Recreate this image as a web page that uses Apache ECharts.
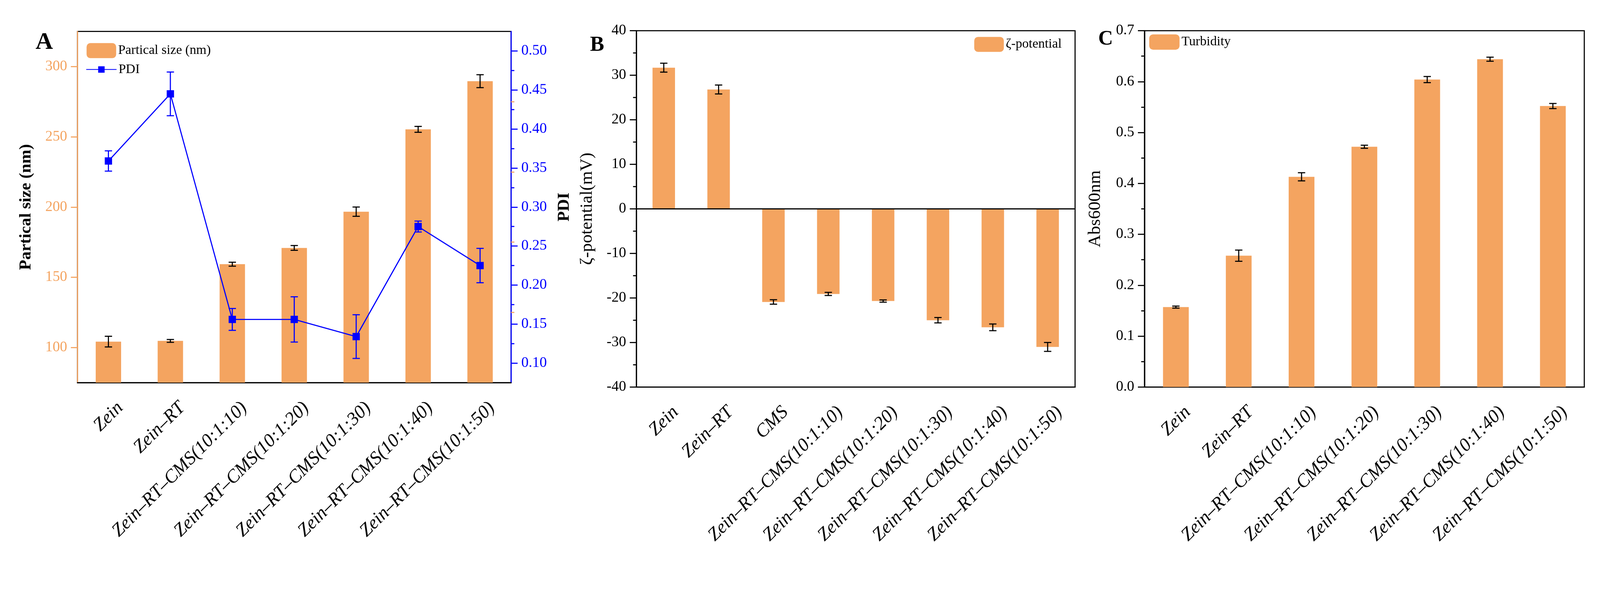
<!DOCTYPE html>
<html>
<head>
<meta charset="utf-8">
<script src="https://cdn.jsdelivr.net/npm/echarts@6/dist/echarts.min.js"></script>
<style>
  html, body { margin: 0; padding: 0; background: #fff; overflow: hidden; }
  #chart { width: 100vw; height: 100vh; }
</style>
</head>
<body>
<div id="chart"></div>
<script>
// categories
const catsA = ["Zein", "Zein\u2013RT", "Zein\u2013RT\u2013CMS(10:1:10)", "Zein\u2013RT\u2013CMS(10:1:20)",
  "Zein\u2013RT\u2013CMS(10:1:30)", "Zein\u2013RT\u2013CMS(10:1:40)", "Zein\u2013RT\u2013CMS(10:1:50)"];
const catsB = ["Zein", "Zein\u2013RT", "CMS", "Zein\u2013RT\u2013CMS(10:1:10)", "Zein\u2013RT\u2013CMS(10:1:20)",
  "Zein\u2013RT\u2013CMS(10:1:30)", "Zein\u2013RT\u2013CMS(10:1:40)", "Zein\u2013RT\u2013CMS(10:1:50)"];
const catsC = catsA;

// panel A: particle size (nm) and PDI
const sizeVals = [104.2, 104.7, 159.3, 170.9, 196.7, 255.3, 289.6];
const sizeErr = [3.8, 1.0, 1.4, 1.7, 3.3, 2.1, 4.6];
const pdiVals = [0.359, 0.445, 0.156, 0.156, 0.134, 0.275, 0.225];
const pdiErr = [0.013, 0.028, 0.014, 0.029, 0.028, 0.007, 0.022];

// panel B: zeta potential (mV)
const zetaVals = [31.7, 26.8, -20.9, -19.1, -20.7, -25.0, -26.6, -31.0];
const zetaErr = [1.0, 1.0, 0.5, 0.35, 0.25, 0.6, 0.75, 1.0];

// panel C: turbidity (Abs600nm)
const turbVals = [0.157, 0.258, 0.413, 0.472, 0.604, 0.644, 0.552];
const turbErr = [0.002, 0.011, 0.008, 0.003, 0.006, 0.004, 0.005];

// tick values for panel A (axes do not start on a round number)
const sizeTicks = [100, 150, 200, 250, 300];
const sizeMinorTicks = [125, 175, 225, 275];
const pdiTicks = [0.10, 0.15, 0.20, 0.25, 0.30, 0.35, 0.40, 0.45, 0.50];
const pdiMinorTicks = [0.125, 0.175, 0.225, 0.275, 0.325, 0.375, 0.425, 0.475];

const FONT = "Liberation Serif";
const BAR = "#F4A460";
const AXIS_ORANGE = "#F4A460";
const BLUE = "#0000FF";

// layout is measured on a 4380 x 1520 canvas; scale to whatever the window really is
const K = Math.min(window.innerWidth / 4380, window.innerHeight / 1520);
const s = (v) => v * K;

function errData(vals, errs) {
  return vals.map((v, i) => [i, v - errs[i], v + errs[i]]);
}

function errorRenderer(color, half) {
  return function (params, api) {
    const x = api.value(0);
    const lo = api.coord([x, api.value(1)]);
    const hi = api.coord([x, api.value(2)]);
    const style = { stroke: color, lineWidth: s(3) };
    const h = s(half);
    return {
      type: "group",
      children: [
        { type: "line", shape: { x1: lo[0], y1: lo[1], x2: hi[0], y2: hi[1] }, style: style },
        { type: "line", shape: { x1: hi[0] - h, y1: hi[1], x2: hi[0] + h, y2: hi[1] }, style: style },
        { type: "line", shape: { x1: lo[0] - h, y1: lo[1], x2: lo[0] + h, y2: lo[1] }, style: style },
      ],
    };
  };
}

function catAxis(idx, cats) {
  return [
    {
      type: "category", gridIndex: idx, data: cats, position: "bottom",
      axisLine: { onZero: false, lineStyle: { color: "#000", width: s(3) } },
      axisTick: { alignWithLabel: true, length: s(18), lineStyle: { color: "#000", width: s(3) } },
      // labels sit a little right of their tick, as in the original figure
      axisLabel: {
        rotate: 45, margin: s(94), padding: [0, -s(46), 0, 0],
        fontFamily: FONT, fontStyle: "italic", fontSize: s(51), color: "#000", interval: 0,
      },
    },
    {
      // boundary ticks between categories
      type: "category", gridIndex: idx, data: cats, position: "bottom",
      axisLine: { show: false, onZero: false },
      axisTick: { alignWithLabel: false, length: s(10), lineStyle: { color: "#000", width: s(3) } },
      axisLabel: { show: false },
    },
  ];
}

const labelStyle = { fontFamily: FONT, fontSize: s(40), color: "#000", margin: s(28) };
const legendText = { fontFamily: FONT, fontSize: s(36), color: "#000" };

const option = {
  animation: false,
  backgroundColor: "#fff",
  title: [
    { text: "A", left: s(92), top: s(78), textStyle: { fontFamily: FONT, fontWeight: "bold", fontSize: s(66), color: "#000" } },
    { text: "B", left: s(1610), top: s(90), textStyle: { fontFamily: FONT, fontWeight: "bold", fontSize: s(58), color: "#000" } },
    { text: "C", left: s(3001), top: s(74), textStyle: { fontFamily: FONT, fontWeight: "bold", fontSize: s(56), color: "#000" } },
  ],
  legend: [
    {
      data: ["Partical size (nm)"], left: s(237), top: s(118), padding: 0,
      itemWidth: s(81), itemHeight: s(41), textStyle: legendText,
    },
    {
      data: ["PDI"], left: s(235), top: s(172), padding: 0,
      itemWidth: s(83), itemHeight: s(22), textStyle: legendText,
    },
    {
      data: ["\u03b6-potential"], left: s(2667), top: s(101), padding: 0,
      itemWidth: s(81), itemHeight: s(41), textStyle: legendText,
    },
    {
      data: ["Turbidity"], left: s(3146), top: s(94), padding: 0,
      itemWidth: s(83), itemHeight: s(42), textStyle: legendText,
    },
  ],
  grid: [
    { left: s(212), top: s(86), width: s(1187), height: s(961), show: true, borderColor: "#000", borderWidth: s(3) },
    { left: s(1742), top: s(84), width: s(1201), height: s(975), show: true, borderColor: "#000", borderWidth: s(3) },
    { left: s(3133), top: s(84), width: s(1204), height: s(975), show: true, borderColor: "#000", borderWidth: s(3) },
  ],
  xAxis: [].concat(catAxis(0, catsA), catAxis(1, catsB), catAxis(2, catsC)),
  yAxis: [
    // 0: A left, particle size
    {
      type: "value", gridIndex: 0, min: 75, max: 325, interval: 25,
      name: "Partical size (nm)", nameLocation: "middle", nameRotate: 90, nameGap: s(118),
      nameTextStyle: { fontFamily: FONT, fontWeight: "bold", fontSize: s(46), color: "#000" },
      axisLine: { show: true, lineStyle: { color: AXIS_ORANGE, width: s(3) } },
      axisTick: { show: true, length: s(18), customValues: sizeTicks, lineStyle: { color: AXIS_ORANGE, width: s(3) } },
      axisLabel: Object.assign({}, labelStyle, { color: AXIS_ORANGE, customValues: sizeTicks }),
      splitLine: { show: false },
    },
    // 1: A left minor ticks
    {
      type: "value", gridIndex: 0, min: 75, max: 325, interval: 25,
      axisLine: { show: false },
      axisTick: { show: true, length: s(9), customValues: sizeMinorTicks, lineStyle: { color: AXIS_ORANGE, width: s(3) } },
      axisLabel: { show: false },
      splitLine: { show: false },
    },
    // 2: A right, PDI
    {
      type: "value", gridIndex: 0, position: "right", min: 0.075, max: 0.525, interval: 0.025,
      name: "PDI", nameLocation: "middle", nameRotate: 90, nameGap: s(123),
      nameTextStyle: { fontFamily: FONT, fontWeight: "bold", fontSize: s(46), color: "#000" },
      axisLine: { show: true, lineStyle: { color: BLUE, width: s(3) } },
      axisTick: { show: true, length: s(18), customValues: pdiTicks, lineStyle: { color: BLUE, width: s(3) } },
      axisLabel: Object.assign({}, labelStyle, {
        color: BLUE, customValues: pdiTicks,
        formatter: (v) => v.toFixed(2),
      }),
      splitLine: { show: false },
    },
    // 3: A right minor ticks
    {
      type: "value", gridIndex: 0, position: "right", min: 0.075, max: 0.525, interval: 0.025,
      axisLine: { show: false },
      axisTick: { show: true, length: s(9), customValues: pdiMinorTicks, lineStyle: { color: BLUE, width: s(3) } },
      axisLabel: { show: false },
      splitLine: { show: false },
    },
    // 4: B zeta potential
    {
      type: "value", gridIndex: 1, min: -40, max: 40, interval: 10,
      name: "\u03b6-potential(mV)", nameLocation: "middle", nameRotate: 90, nameGap: s(110),
      nameTextStyle: { fontFamily: FONT, fontSize: s(48), color: "#000" },
      axisLine: { show: true, lineStyle: { color: "#000", width: s(3) } },
      axisTick: { show: true, length: s(18), lineStyle: { color: "#000", width: s(3) } },
      minorTick: { show: true, splitNumber: 2, length: s(9), lineStyle: { color: "#000", width: s(3) } },
      axisLabel: labelStyle,
      splitLine: { show: false },
    },
    // 5: C turbidity
    {
      type: "value", gridIndex: 2, min: 0, max: 0.7, interval: 0.1,
      name: "Abs600nm", nameLocation: "middle", nameRotate: 90, nameGap: s(110),
      nameTextStyle: { fontFamily: FONT, fontSize: s(48), color: "#000" },
      axisLine: { show: true, lineStyle: { color: "#000", width: s(3) } },
      axisTick: { show: true, length: s(18), lineStyle: { color: "#000", width: s(3) } },
      minorTick: { show: true, splitNumber: 2, length: s(9), lineStyle: { color: "#000", width: s(3) } },
      axisLabel: Object.assign({}, labelStyle, { formatter: (v) => v.toFixed(1) }),
      splitLine: { show: false },
    },
  ],
  series: [
    {
      name: "Partical size (nm)", type: "bar", xAxisIndex: 0, yAxisIndex: 0,
      data: sizeVals, barWidth: "41%", itemStyle: { color: BAR },
    },
    {
      type: "custom", xAxisIndex: 0, yAxisIndex: 0, z: 5,
      renderItem: errorRenderer("#000", 10), data: errData(sizeVals, sizeErr),
      encode: { x: 0, y: [1, 2] },
    },
    {
      name: "PDI", type: "line", xAxisIndex: 0, yAxisIndex: 2, z: 6,
      data: pdiVals, symbol: "rect", symbolSize: s(20),
      lineStyle: { color: BLUE, width: s(3) }, itemStyle: { color: BLUE },
    },
    {
      type: "custom", xAxisIndex: 0, yAxisIndex: 2, z: 6,
      renderItem: errorRenderer(BLUE, 10), data: errData(pdiVals, pdiErr),
      encode: { x: 0, y: [1, 2] },
    },
    {
      name: "\u03b6-potential", type: "bar", xAxisIndex: 2, yAxisIndex: 4,
      data: zetaVals, barWidth: "41%", itemStyle: { color: BAR },
      markLine: {
        silent: true, symbol: "none", label: { show: false },
        lineStyle: { color: "#000", width: s(3), type: "solid" },
        data: [{ yAxis: 0 }],
      },
    },
    {
      type: "custom", xAxisIndex: 2, yAxisIndex: 4, z: 5,
      renderItem: errorRenderer("#000", 10), data: errData(zetaVals, zetaErr),
      encode: { x: 0, y: [1, 2] },
    },
    {
      name: "Turbidity", type: "bar", xAxisIndex: 4, yAxisIndex: 5,
      data: turbVals, barWidth: "41%", itemStyle: { color: BAR },
    },
    {
      type: "custom", xAxisIndex: 4, yAxisIndex: 5, z: 5,
      renderItem: errorRenderer("#000", 10), data: errData(turbVals, turbErr),
      encode: { x: 0, y: [1, 2] },
    },
  ],
};

const chart = echarts.init(document.getElementById("chart"));
chart.setOption(option);
</script>
</body>
</html>
